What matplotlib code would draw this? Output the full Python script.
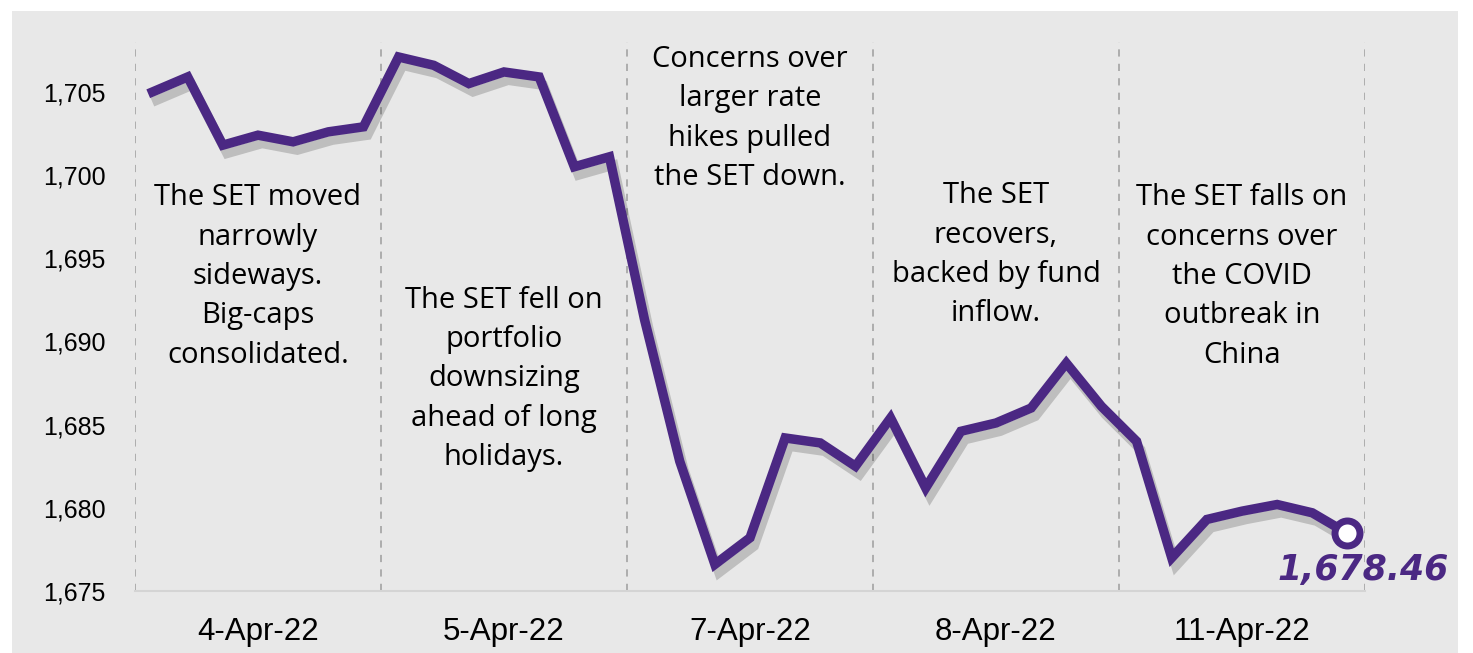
import matplotlib
matplotlib.use("Agg")
import matplotlib.pyplot as plt
import matplotlib.patheffects as pe
from matplotlib.patches import Rectangle

# ---- data ----
days = ["4-Apr-22", "5-Apr-22", "7-Apr-22", "8-Apr-22", "11-Apr-22"]
pts_per_day = 7
set_index = [
    1705.0, 1705.9, 1701.8, 1702.4, 1702.0, 1702.6, 1702.9,
    1707.1, 1706.6, 1705.5, 1706.2, 1705.9, 1700.5, 1701.1,
    1691.3, 1682.8, 1676.6, 1678.2, 1684.2, 1683.9, 1682.5,
    1685.4, 1681.2, 1684.6, 1685.1, 1686.0, 1688.7, 1686.1,
    1684.0, 1677.0, 1679.3, 1679.8, 1680.2, 1679.7, 1678.46,
]
yticks = [1675, 1680, 1685, 1690, 1695, 1700, 1705]
notes = [
    "The SET moved\nnarrowly\nsideways.\nBig-caps\nconsolidated.",
    "The SET fell on\nportfolio\ndownsizing\nahead of long\nholidays.",
    "Concerns over\nlarger rate\nhikes pulled\nthe SET down.",
    "The SET\nrecovers,\nbacked by fund\ninflow.",
    "The SET falls on\nconcerns over\nthe COVID\noutbreak in\nChina",
]
note_y = [1693.9, 1687.75, 1703.4, 1695.2, 1693.9]

purple = "#4B2883"
bg = "#e8e8e8"

fig = plt.figure(figsize=(14.73, 6.53), dpi=100, facecolor="white")
fig.patches.append(Rectangle((12/1473, 0), (1458-12)/1473, (653-11)/653,
                             transform=fig.transFigure, facecolor=bg,
                             edgecolor="none", zorder=-5))
ax = fig.add_axes([135/1473, 1-591/653, (1365-135)/1473, (591-42)/653])
ax.set_facecolor(bg)

n = len(set_index)
x = list(range(n))
ax.set_xlim(-0.5, n - 0.5)
ax.set_ylim(1675, 1708)

for k in range(len(days) + 1):
    ax.axvline(k*pts_per_day - 0.5, color="#a8a8a8", lw=1.3, ls=(0, (4, 4)), zorder=1)

ax.plot(x, set_index, color=purple, lw=6.8, solid_joinstyle="miter", zorder=3,
        path_effects=[pe.SimpleLineShadow(offset=(3, -6), shadow_color="k", alpha=0.18),
                      pe.Normal()])
ax.plot([x[-1]], [set_index[-1]], "o", ms=18, mfc="white", mec=purple, mew=5, zorder=4)
ax.annotate(f"{set_index[-1]:,.2f}", (x[-1], set_index[-1]), xytext=(16, -37),
            textcoords="offset pixels", ha="center", va="center",
            fontsize=25, fontweight="bold", fontstyle="italic", color=purple,
            family="DejaVu Sans", zorder=5, annotation_clip=False)

for i, (txt, yv) in enumerate(zip(notes, note_y)):
    ax.text(i*pts_per_day + 3, yv, txt, ha="center", va="center", fontsize=21,
            family="Open Sans", color="black", linespacing=1.47, zorder=2)

ax.set_yticks(yticks)
ax.set_yticklabels([f"{v:,}" for v in yticks], family="Liberation Sans", fontsize=18)
ax.set_xticks([i*pts_per_day + 3 for i in range(len(days))])
ax.set_xticklabels(days, family="Liberation Sans", fontsize=22.5)
ax.tick_params(axis="both", length=0)
ax.tick_params(axis="y", pad=21)
ax.tick_params(axis="x", pad=19)
for s in ["top", "right", "left"]:
    ax.spines[s].set_visible(False)
ax.spines["bottom"].set_color("#d4d4d4")
ax.spines["bottom"].set_linewidth(1.5)

fig.savefig("out.png", dpi=100, facecolor="white")
